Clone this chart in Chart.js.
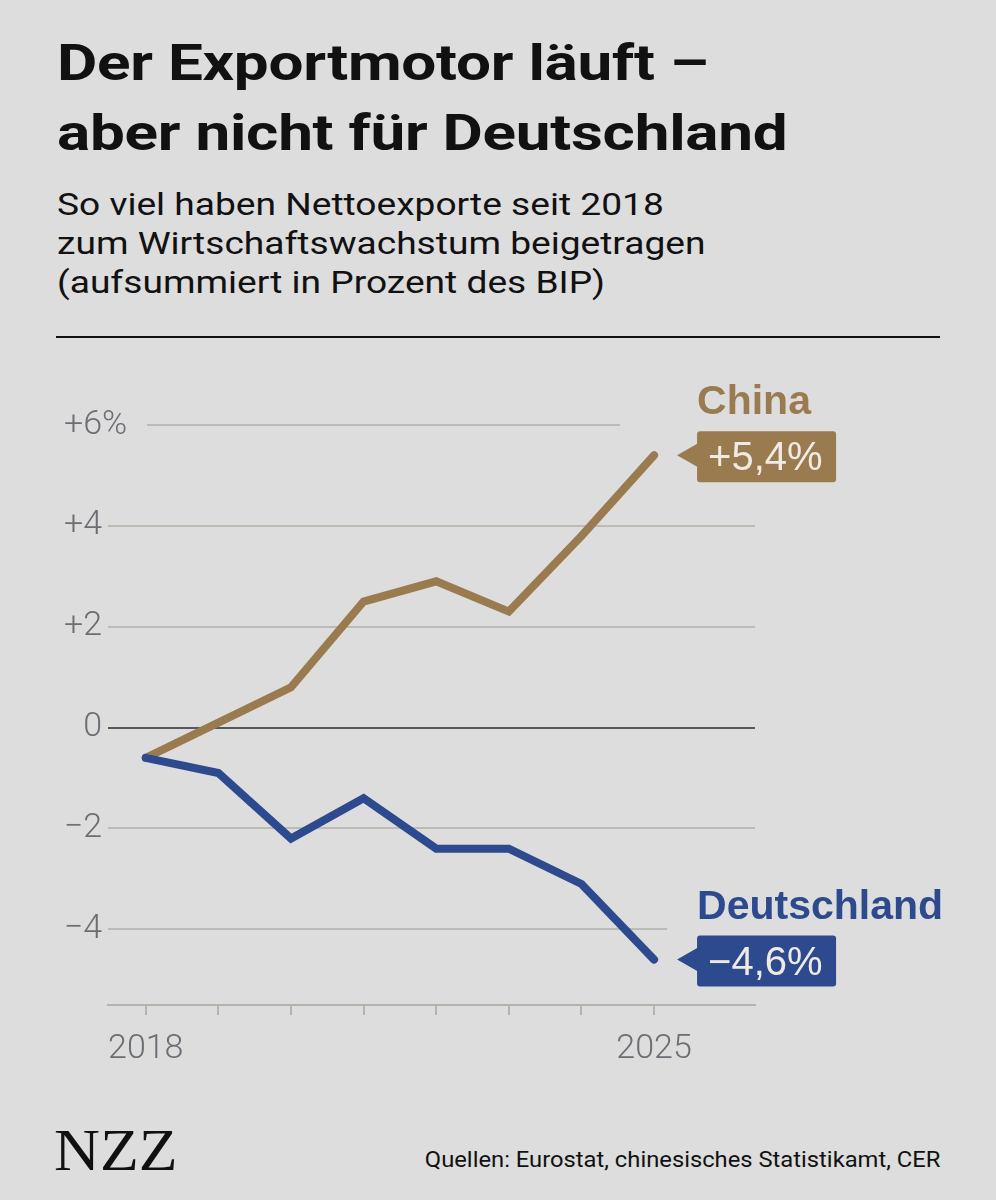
<!DOCTYPE html>
<html lang="de">
<head>
<meta charset="utf-8">
<script src="https://cdn.jsdelivr.net/npm/chart.js@4.4.1/dist/chart.umd.min.js"></script>
<style>
  html, body { margin: 0; padding: 0; }
  body {
    width: 996px; height: 1200px; position: relative; overflow: hidden;
    background: #dddddd; color: #111111; font-family: Roboto, sans-serif;
  }
  .title {
    position: absolute; left: 57px; top: 28px; white-space: nowrap;
    font-size: 50px; line-height: 70px; font-weight: 700; letter-spacing: -0.2px;
    transform: scaleX(1.24); transform-origin: left top;
  }
  .subtitle {
    position: absolute; left: 57px; top: 185px; white-space: nowrap;
    font-size: 32px; line-height: 39px; font-weight: 400;
    transform: scaleX(1.16); transform-origin: left top;
  }
  .rule { position: absolute; left: 56px; top: 336px; width: 884px; height: 2px; background: #111; }
  #chart-wrap { position: absolute; left: 0; top: 360px; width: 996px; height: 720px; }
  .logo {
    position: absolute; left: 54px; top: 1120px;
    font-family: "Liberation Serif", "DejaVu Serif", serif; font-size: 60px; line-height: 60px;
    transform: scaleX(1.06); transform-origin: left top;
  }
  .source {
    position: absolute; right: 56px; top: 1149px; white-space: nowrap;
    font-size: 22px; line-height: 22px;
    transform: scaleX(1.08); transform-origin: right top;
  }
</style>
</head>
<body>
<div class="title">Der Exportmotor läuft –<br>aber nicht für Deutschland</div>
<div class="subtitle">So viel haben Nettoexporte seit 2018<br>zum Wirtschaftswachstum beigetragen<br>(aufsummiert in Prozent des BIP)</div>
<div class="rule"></div>
<div id="chart-wrap"><canvas id="chart-exports" width="996" height="720"></canvas></div>
<div class="logo">NZZ</div>
<div class="source">Quellen: Eurostat, chinesisches Statistikamt, CER</div>

<script>
// Beitrag der Nettoexporte zum Wachstum seit 2018, aufsummiert (% des BIP)
const years = [2018, 2019, 2020, 2021, 2022, 2023, 2024, 2025];
const chinaValues = [-0.6, 0.1, 0.8, 2.5, 2.9, 2.3, 3.8, 5.4];
const germanyValues = [-0.6, -0.9, -2.2, -1.4, -2.4, -2.4, -3.1, -4.6];

const seriesNames = ['China', 'Deutschland'];
const endValueLabels = ['+5,4%', '−4,6%'];

const yTickValues = [-4, -2, 0, 2, 4, 6];
const yTickLabels = ['−4', '−2', '0', '+2', '+4', '+6'];
const xLabelYears = [2018, 2025];

const BG = '#dddddd';
const GOLD = '#9a7b50';
const NAVY = '#2d4a8e';
const AXIS_GREY = '#6b6e73';

// gridline cut-outs next to the labels, and the % on the top tick
const gridMaskPlugin = {
    id: 'gridMask',
    beforeDatasetsDraw(chart) {
        const { ctx, chartArea, scales } = chart;
        const y6 = scales.y.getPixelForValue(6);
        const yM4 = scales.y.getPixelForValue(-4);
        const x25 = scales.x.getPixelForValue(2025);
        ctx.save();
        ctx.fillStyle = BG;
        ctx.fillRect(chartArea.left - 1, y6 - 3, 40, 6);
        ctx.fillRect(x25 - 34, y6 - 3, chartArea.right - x25 + 36, 6);
        ctx.fillRect(x25 + 13, yM4 - 3, chartArea.right - x25, 6);
        ctx.restore();
    },
    afterDraw(chart) {
        const { ctx, chartArea, scales } = chart;
        ctx.save();
        ctx.fillStyle = AXIS_GREY;
        ctx.font = '300 34px Roboto';
        ctx.textAlign = 'left';
        ctx.textBaseline = 'middle';
        ctx.fillText('%', chartArea.left - 6, scales.y.getPixelForValue(6));
        ctx.restore();
    }
};

const endLabelPlugin = {
    id: 'endLabels',
    afterDatasetsDraw(chart) {
        const ctx = chart.ctx;
        chart.data.datasets.forEach((ds, i) => {
            const meta = chart.getDatasetMeta(i);
            const last = meta.data[meta.data.length - 1];
            const px = last.x, py = last.y;
            const idx = seriesNames.indexOf(ds.label);
            const bx = px + 43, by = py - 24, bw = 139, bh = 51;

            ctx.save();
            ctx.fillStyle = ds.borderColor;
            ctx.font = 'bold 41px "Liberation Sans", Arial, sans-serif';
            ctx.textBaseline = 'alphabetic';
            ctx.fillText(ds.label, bx, py - 41);

            ctx.beginPath();
            ctx.roundRect(bx, by, bw, bh, 3);
            ctx.fill();
            ctx.beginPath();
            ctx.moveTo(px + 23, py);
            ctx.lineTo(bx + 1, py - 12);
            ctx.lineTo(bx + 1, py + 12);
            ctx.closePath();
            ctx.fill();

            ctx.fillStyle = '#efebe4';
            ctx.font = '40px "Liberation Sans", Arial, sans-serif';
            ctx.fillText(endValueLabels[idx], bx + 11, py + 15);
            ctx.restore();
        });
    }
};

const toPoints = values => years.map((yr, i) => ({ x: yr, y: values[i] }));

new Chart(document.getElementById('chart-exports').getContext('2d'), {
    type: 'line',
    data: {
        datasets: [
            {
                label: seriesNames[1],
                data: toPoints(germanyValues),
                borderColor: NAVY,
                order: 0,
            },
            {
                label: seriesNames[0],
                data: toPoints(chinaValues),
                borderColor: GOLD,
                order: 1,
            }
        ]
    },
    options: {
        responsive: false,
        animation: false,
        layout: { padding: { top: 65, right: 241, left: 0, bottom: 0 } },
        elements: {
            line: { borderWidth: 8, tension: 0, borderCapStyle: 'round', borderJoinStyle: 'miter' },
            point: { radius: 0, hoverRadius: 0 }
        },
        plugins: {
            legend: { display: false },
            tooltip: { enabled: false }
        },
        scales: {
            x: {
                type: 'linear',
                min: 2017.48,
                max: 2026.39,
                afterBuildTicks: s => { s.ticks = years.map(v => ({ value: v })); },
                afterFit: s => { s.height = 75; },
                ticks: {
                    callback: v => xLabelYears.includes(v) ? String(v) : '',
                    autoSkip: false,
                    maxRotation: 0,
                    padding: 14,
                    color: AXIS_GREY,
                    font: { family: 'Roboto', weight: '300', size: 34 }
                },
                grid: { drawOnChartArea: false, drawTicks: true, tickLength: 10, color: '#b5b3ae', lineWidth: 2 },
                border: { display: true, color: '#b5b3ae', width: 2 }
            },
            y: {
                min: -5.5,
                max: 6,
                afterBuildTicks: s => { s.ticks = yTickValues.map(v => ({ value: v })); },
                afterFit: s => { s.width = 108; },
                ticks: {
                    callback: v => yTickLabels[yTickValues.indexOf(v)],
                    padding: 6,
                    color: AXIS_GREY,
                    font: { family: 'Roboto', weight: '300', size: 34 }
                },
                grid: {
                    color: c => (c.tick && c.tick.value === 0) ? '#55575b' : '#bdbbb6',
                    lineWidth: 2,
                    drawTicks: false
                },
                border: { display: false }
            }
        }
    },
    plugins: [gridMaskPlugin, endLabelPlugin]
});
</script>
</body>
</html>
